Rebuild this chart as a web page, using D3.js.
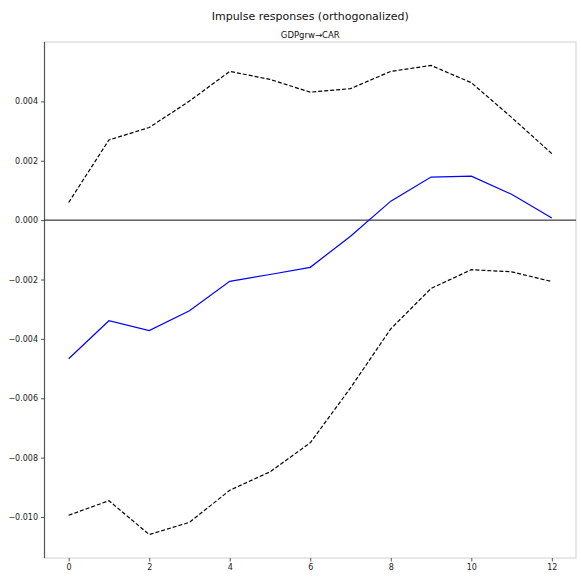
<!DOCTYPE html>
<html>
<head>
<meta charset="utf-8">
<script src="https://cdn.jsdelivr.net/npm/d3@7"></script>
<style>
  body { margin: 0; background: #fff; }
  text { font-family: "DejaVu Sans", sans-serif; }
</style>
</head>
<body>
<svg id="chart" width="581" height="578"></svg>
<script>
// impulse response of CAR to a GDPgrw shock, with error bands
var periods = [0, 1, 2, 3, 4, 5, 6, 7, 8, 9, 10, 11, 12];
var irf = [-0.00467, -0.00339, -0.00372, -0.00305, -0.00206, -0.00183, -0.00159,
           -0.00054, 0.00064, 0.00145, 0.00148, 0.00087, 0.00007];
var upper = [0.000595, 0.00270, 0.00312, 0.00401, 0.00501, 0.00474, 0.00431,
             0.00443, 0.00501, 0.00521, 0.00463, 0.00346, 0.00224];
var lower = [-0.00994, -0.00945, -0.01059, -0.01018, -0.00910, -0.00848, -0.00750,
             -0.00565, -0.00366, -0.00230, -0.00167, -0.00174, -0.00207];
var xTicks = [0, 2, 4, 6, 8, 10, 12];
var yTicks = [0.004, 0.002, 0.000, -0.002, -0.004, -0.006, -0.008, -0.010];

var svg = d3.select('#chart');
// plot box (note: "top" is taken by window.top, so use other names)
var pLeft = 44.5, pRight = 576, pTop = 42, pBottom = 558;

// matplotlib style 5% margins around the data
var allY = upper.concat(lower, irf);
var yMin = d3.min(allY), yMax = d3.max(allY);
var yPad = (yMax - yMin) * 0.05;
var x = d3.scaleLinear().domain([-0.6, 12.6]).range([pLeft, pRight]);
var y = d3.scaleLinear().domain([yMin - yPad, yMax + yPad]).range([pBottom, pTop]);

// frame
svg.append('rect')
  .attr('x', pLeft).attr('y', pTop)
  .attr('width', pRight - pLeft).attr('height', pBottom - pTop)
  .attr('fill', 'none').attr('stroke', '#d0d0d0').attr('stroke-width', 1);
svg.append('line')
  .attr('x1', pLeft).attr('x2', pLeft).attr('y1', pTop).attr('y2', pBottom)
  .attr('stroke', '#555').attr('stroke-width', 1.2);

// axes
var fmt = function(d) { return d3.format('.3f')(d).replace('-', '\u2212'); };
var yAxis = svg.append('g')
  .attr('transform', 'translate(' + pLeft + ',0)')
  .call(d3.axisLeft(y).tickValues(yTicks).tickFormat(fmt).tickSize(3.5).tickPadding(3));
var xAxis = svg.append('g')
  .attr('transform', 'translate(0,' + pBottom + ')')
  .call(d3.axisBottom(x).tickValues(xTicks).tickSize(3.5).tickPadding(3));
[yAxis, xAxis].forEach(function(g) {
  g.select('.domain').remove();
  g.selectAll('.tick line').attr('stroke', '#555');
  g.selectAll('.tick text').attr('fill', '#222').style('font-size', '8px');
});

// zero line
svg.append('line')
  .attr('x1', pLeft).attr('x2', pRight)
  .attr('y1', y(0)).attr('y2', y(0))
  .attr('stroke', '#111').attr('stroke-width', 1);

var line = d3.line()
  .x(function(d, i) { return x(periods[i]); })
  .y(function(d) { return y(d); });

[upper, lower].forEach(function(band) {
  svg.append('path')
    .attr('d', line(band))
    .attr('fill', 'none')
    .attr('stroke', '#000')
    .attr('stroke-width', 1.2)
    .attr('stroke-dasharray', '4,2');
});

svg.append('path')
  .attr('d', line(irf))
  .attr('fill', 'none')
  .attr('stroke', '#0000ff')
  .attr('stroke-width', 1.2);

// titles
svg.append('text')
  .attr('x', (pLeft + pRight) / 2).attr('y', 20)
  .attr('text-anchor', 'middle')
  .style('font-size', '11px').attr('fill', '#111')
  .text('Impulse responses (orthogonalized)');
svg.append('text')
  .attr('x', (pLeft + pRight) / 2).attr('y', 38)
  .attr('text-anchor', 'middle')
  .style('font-size', '8.5px').attr('fill', '#111')
  .text('GDPgrw\u2192CAR');
</script>
</body>
</html>
